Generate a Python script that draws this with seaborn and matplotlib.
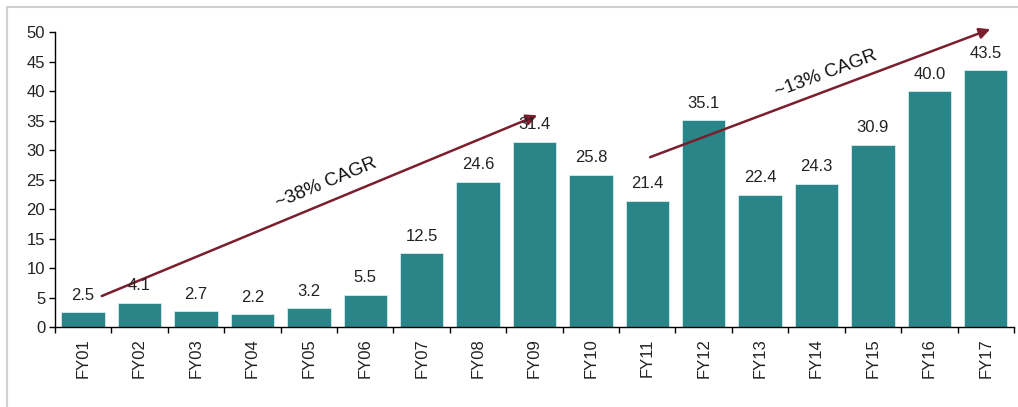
import matplotlib
matplotlib.use("Agg")
import matplotlib.pyplot as plt
import seaborn as sns
import pandas as pd
import numpy as np
from matplotlib.patches import Rectangle, FancyArrowPatch

years = ["FY01", "FY02", "FY03", "FY04", "FY05", "FY06", "FY07", "FY08", "FY09",
         "FY10", "FY11", "FY12", "FY13", "FY14", "FY15", "FY16", "FY17"]
values = [2.5, 4.1, 2.7, 2.2, 3.2, 5.5, 12.5, 24.6, 31.4, 25.8, 21.4, 35.1, 22.4,
          24.3, 30.9, 40.0, 43.5]
annotations = ["~38% CAGR", "~13% CAGR"]

sns.set_theme(style="white")
plt.rcParams['font.family'] = ['Liberation Sans', 'DejaVu Sans']

df = pd.DataFrame({"year": years, "value": values})

fig = plt.figure(figsize=(10.18, 4.07), dpi=100)
ax = fig.add_axes([0.054, 0.1966, 0.942, 0.7244])

bar_color = "#2A8589"
arrow_color = "#7B1E2E"

sns.barplot(data=df, x="year", y="value", color=bar_color, width=0.77,
            saturation=1, ax=ax, edgecolor="#d8ecec", linewidth=0.6)

for i, v in enumerate(values):
    ax.text(i, v + 1.6, f"{v:.1f}", ha="center", va="bottom", fontsize=12,
            color="#222222")

ax.set_ylim(0, 50)
ax.set_xlim(-0.5, len(years) - 0.5)
ax.set_yticks(range(0, 51, 5))
ax.set_xlabel("")
ax.set_ylabel("")
ax.tick_params(axis="y", labelsize=12, length=4, width=1, color="black",
               left=True, pad=3, labelcolor="#222222")
ax.tick_params(axis="x", which="major", labelsize=12, length=0, pad=8,
               labelrotation=90, labelcolor="#222222")
ax.set_xticks(np.arange(-0.5, len(years), 1), minor=True)
ax.tick_params(axis="x", which="minor", length=4, width=1, color="black",
               bottom=True)
for s in ["top", "right"]:
    ax.spines[s].set_visible(False)
for s in ["left", "bottom"]:
    ax.spines[s].set_color("black")
    ax.spines[s].set_linewidth(1)

# CAGR arrows
a1 = FancyArrowPatch((0.33, 5.25), (8.05, 35.9), arrowstyle="-|>",
                     mutation_scale=16, color=arrow_color, lw=1.8,
                     clip_on=False, shrinkA=0, shrinkB=0)
ax.add_patch(a1)
a2 = FancyArrowPatch((10.05, 28.8), (16.08, 50.5), arrowstyle="-|>",
                     mutation_scale=16, color=arrow_color, lw=1.8,
                     clip_on=False, shrinkA=0, shrinkB=0)
ax.add_patch(a2)

fig.text(326 / 1018, 1 - 183 / 407, annotations[0], rotation=22.5,
         ha="center", va="center", fontsize=13.5, color="#111111")
fig.text(826 / 1018, 1 - 74 / 407, annotations[1], rotation=20.5,
         ha="center", va="center", fontsize=13.5, color="#111111")

# light gray frame
fig.patches.append(Rectangle((7 / 1018, -0.05), 1.2, 1 - 7 / 407 + 0.05,
                             transform=fig.transFigure, fill=False,
                             edgecolor="#d0d0d0", lw=1.5))

fig.savefig("out.png", dpi=100)
